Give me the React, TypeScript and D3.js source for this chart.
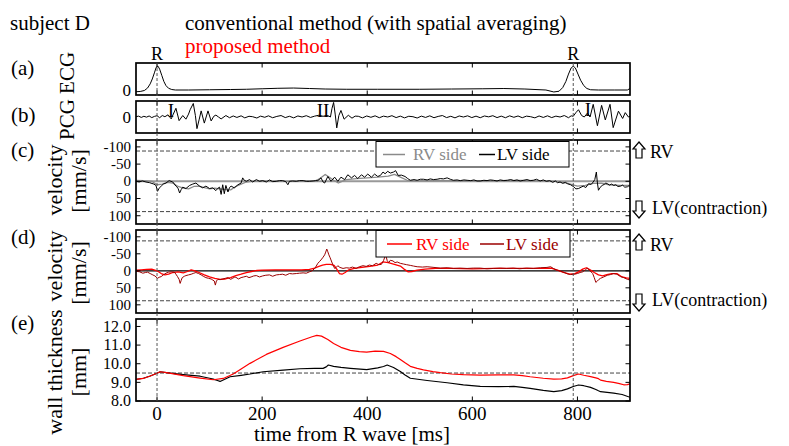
import React from 'react';
import * as d3 from 'd3';

type P = [number, number];

const X_DOMAIN: [number, number] = [-40, 900];
const X_TICKS = [0, 200, 400, 600, 800];
const R_TIMES = [0, 792];
const VEL_TICKS = [-100, -50, 0, 50, 100];
const WALL_TICKS = [8, 9, 10, 11, 12];
const VEL_LIMIT = 88;
const WALL_REF = 9.5;

// (a) ECG
const ecg: P[] = [[-40,-0.07],[-32,-0.06],[-24,-0.02],[-18,0.08],[-13,0.25],[-9,0.45],[-5,0.7],[-2,0.9],[0,0.97],[2,0.97],[5,0.85],[9,0.6],[13,0.35],[17,0.18],[22,0.07],[28,0.02],[35,0],[60,0],[100,0.01],[140,0.02],[170,0.03],[200,0.05],[230,0.07],[260,0.08],[290,0.06],[320,0.04],[360,0.03],[420,0.03],[500,0.03],[560,0.04],[620,0.05],[660,0.06],[700,0.04],[740,0],[755,-0.08],[765,-0.05],[772,0.1],[778,0.35],[783,0.65],[788,0.9],[792,0.97],[796,0.9],[801,0.65],[806,0.4],[812,0.18],[818,0.06],[825,0.01],[840,0],[870,0],[895,0],[900,0.06]];

// (b) PCG
const pcg: P[] = [[-40,0.02],[-35,0.06],[-30,-0.03],[-25,0.05],[-20,-0.01],[-15,0.07],[-10,-0.04],[-5,0.04],[0,0.09],[5,-0.05],[10,0.1],[15,0.02],[21,0.15],[27,-0.13],[31,0.2],[36,0.6],[42,-0.25],[49,0.1],[55,-0.15],[60,0.2],[63,0.5],[69,0.93],[73,0.1],[76,-0.8],[80,-0.2],[84,0.42],[90,-0.42],[97,0.42],[103,-0.27],[108,0.05],[112,0.13],[117,0],[122,-0.13],[131,0.1],[138,-0.05],[145,0.07],[152,-0.03],[160,0.08],[167,-0.06],[175,0.05],[182,0.02],[190,-0.07],[197,0.06],[205,-0.02],[212,0.08],[220,-0.05],[228,0.04],[236,0.1],[244,-0.04],[252,0.05],[260,-0.06],[268,0.07],[276,0],[284,0.09],[292,-0.03],[300,0.06],[308,0.12],[316,0.05],[322,0.1],[326,0.08],[330,0],[333,0.6],[336,1.0],[339,0.2],[342,-0.75],[346,0.1],[350,0.45],[356,-0.15],[364,0.12],[371,-0.08],[377,0.06],[383,0.05],[391,-0.06],[399,0.07],[407,-0.02],[415,0.08],[423,-0.05],[431,0.06],[439,0],[447,0.09],[455,-0.04],[463,0.06],[471,-0.06],[479,0.05],[487,0.02],[495,-0.07],[503,0.06],[511,-0.03],[519,0.08],[527,-0.05],[535,0.04],[543,0.1],[551,-0.04],[559,0.05],[567,-0.06],[575,0.07],[583,0],[591,0.08],[599,-0.04],[607,0.06],[615,-0.05],[623,0.07],[631,0.01],[639,0.09],[647,-0.04],[655,0.06],[663,-0.05],[671,0.08],[679,-0.02],[687,0.07],[695,-0.05],[703,0.06],[711,0.02],[719,-0.06],[727,0.07],[735,-0.03],[743,0.08],[751,-0.04],[759,0.06],[767,0],[775,0.1],[783,-0.05],[788,0.08],[792,0.05],[797,0.3],[802,0.5],[808,0.1],[813,0],[819,0.27],[824,0],[830,0.87],[838,-0.6],[846,0.8],[853,-0.2],[862,0.87],[868,-0.73],[878,0.4],[886,-0.1],[891,0.3],[897,0],[900,0.05]];

// (c) conventional velocity
const convRV: P[] = [[-40,-3],[-25,-2],[-10,0],[0,10],[10,8],[20,3],[30,5],[40,15],[50,20],[60,22],[70,15],[80,14],[90,18],[100,22],[110,20],[120,22],[130,24],[140,25],[150,15],[160,8],[170,2],[180,0],[200,-1],[250,0],[300,-1],[310,-8],[320,-20],[328,-12],[336,-3],[345,5],[352,0],[360,-5],[380,-8],[400,-10],[420,-12],[440,-15],[452,-20],[463,-12],[476,-3],[490,-1],[520,-3],[560,-2],[600,-1],[650,-2],[700,-3],[740,-1],[760,0],[780,5],[800,14],[815,12],[830,6],[845,5],[860,10],[880,12],[900,12]];
const convLV: P[] = [[-40,0],[-34,2],[-28,-1],[-21,2],[-14,4],[-6,8],[-2,12],[1,29],[4,20],[8,14],[12,8],[17,5],[23,-2],[30,2],[36,14],[40,20],[43,34],[46,24],[49,17],[55,21],[62,12],[68,8],[74,5],[81,14],[87,19],[93,14],[100,21],[106,19],[112,27],[116,20],[119,17],[122,38],[125,10],[128,36],[131,12],[135,31],[138,18],[141,14],[147,19],[154,10],[160,5],[163,-10],[166,-3],[170,0],[176,-5],[182,2],[189,-5],[195,0],[201,-2],[208,2],[214,-4],[220,1],[227,0],[233,-2],[239,-2],[245,1],[249,10],[252,0],[258,-1],[265,0],[271,-2],[278,-2],[284,0],[290,0],[297,-1],[302,-2],[306,-2],[312,-10],[316,2],[319,5],[325,-14],[331,0],[338,-12],[344,0],[350,-12],[357,-5],[363,-19],[370,-10],[376,-17],[382,-8],[389,-19],[395,-12],[401,-21],[408,-12],[414,-21],[420,-14],[425,-17],[430,-27],[434,-22],[439,-29],[444,-24],[450,-27],[454,-31],[459,-17],[465,-18],[472,-14],[477,-8],[482,-3],[489,-5],[495,-3],[501,-6],[507,-6],[514,-4],[520,-7],[526,-5],[533,-6],[539,-8],[545,-7],[552,-10],[558,-6],[564,-3],[571,-4],[577,-2],[584,-4],[590,-3],[597,-2],[603,-4],[609,-1],[615,-1],[622,-3],[628,-2],[634,-4],[640,-3],[647,-1],[653,-4],[660,-2],[667,-3],[673,-5],[679,-2],[685,-4],[691,-1],[698,-3],[704,-5],[710,-2],[716,-3],[722,-6],[729,-1],[735,-4],[741,0],[747,-2],[753,3],[758,-1],[762,4],[767,2],[772,6],[777,3],[781,7],[787,10],[793,16],[797,22],[802,21],[807,17],[811,14],[816,18],[821,7],[826,9],[830,2],[833,-5],[836,-27],[838,5],[840,26],[843,18],[847,12],[851,9],[854,5],[857,7],[861,11],[865,8],[869,12],[873,10],[877,15],[882,14],[886,11],[890,17],[895,16],[898,13],[900,14]];

// (d) proposed velocity
const propRV: P[] = [[-40,-2],[-30,-3],[-20,-4],[-10,-5],[0,0],[8,8],[15,12],[22,10],[30,5],[40,3],[50,6],[58,2],[65,-3],[72,0],[80,5],[90,12],[100,18],[110,22],[120,25],[130,24],[140,20],[150,14],[160,10],[170,5],[180,2],[190,-1],[200,-2],[225,-3],[250,-3],[275,-3],[290,-4],[300,-8],[308,-13],[315,-17],[322,-19],[330,-19],[337,-16],[342,-5],[347,8],[352,10],[358,5],[365,-3],[375,-7],[390,-10],[405,-13],[420,-17],[430,-26],[440,-24],[450,-20],[463,-14],[470,-5],[478,3],[485,2],[495,-2],[510,-5],[530,-7],[560,-7],[600,-6],[640,-7],[680,-7],[720,-7],[750,-8],[762,-2],[772,4],[785,10],[795,8],[802,3],[810,-5],[817,-9],[825,-2],[832,5],[840,12],[848,15],[856,11],[865,8],[875,8],[885,18],[893,21],[900,22]];
const propLV: P[] = [[-40,1],[-33,3],[-27,7],[-22,5],[-18,4],[-13,8],[-8,12],[-4,15],[1,22],[4,19],[8,17],[12,12],[17,7],[22,4],[27,3],[33,4],[36,10],[39,17],[42,25],[44,37],[46,28],[48,20],[52,16],[55,14],[60,12],[65,10],[70,7],[74,5],[79,8],[84,12],[88,16],[93,20],[98,22],[103,24],[106,27],[109,30],[111,42],[113,30],[116,25],[120,26],[125,24],[130,22],[135,20],[140,25],[144,22],[147,19],[150,19],[155,24],[160,20],[165,18],[170,16],[175,20],[179,18],[184,15],[189,14],[195,18],[201,15],[207,13],[214,12],[220,16],[227,12],[233,11],[239,10],[245,13],[252,8],[258,9],[265,8],[271,7],[278,6],[284,7],[290,3],[295,0],[300,-7],[303,-14],[306,-22],[309,-27],[312,-32],[316,-40],[319,-47],[321,-55],[323,-64],[325,-56],[327,-47],[329,-40],[331,-32],[334,-20],[338,-7],[341,-10],[344,-15],[348,-10],[354,-7],[360,-9],[366,-8],[372,-11],[379,-7],[385,-12],[392,-15],[398,-13],[404,-17],[410,-15],[417,-22],[422,-18],[427,-19],[431,-30],[435,-47],[438,-30],[441,-24],[444,-31],[449,-29],[453,-24],[457,-26],[463,-22],[469,-20],[475,-18],[482,-16],[488,-14],[495,-12],[505,-11],[514,-12],[527,-10],[539,-8],[552,-9],[564,-7],[577,-8],[590,-7],[602,-8],[615,-8],[628,-6],[640,-7],[653,-8],[665,-7],[678,-8],[690,-6],[703,-8],[716,-7],[730,-9],[742,-10],[749,-12],[755,-6],[761,-2],[768,1],[775,5],[781,9],[787,11],[794,10],[800,8],[805,5],[810,3],[815,-3],[819,-8],[824,0],[829,8],[832,20],[835,34],[838,30],[841,25],[844,22],[850,18],[857,13],[863,11],[869,8],[875,10],[882,17],[888,20],[895,25],[900,27]];

// (e) wall thickness
const wallProp: P[] = [[-40,9.16],[-26,9.21],[-13,9.34],[0,9.49],[6,9.57],[18,9.52],[50,9.36],[82,9.23],[107,9.14],[126,9.21],[145,9.45],[160,9.72],[177,10.02],[208,10.5],[240,10.88],[272,11.22],[295,11.45],[304,11.52],[313,11.48],[325,11.3],[336,11.09],[350,10.88],[368,10.72],[385,10.65],[399,10.62],[415,10.68],[431,10.66],[444,10.55],[455,10.38],[463,10.23],[472,10.05],[482,9.86],[495,9.75],[507,9.67],[525,9.58],[539,9.52],[560,9.45],[583,9.41],[615,9.39],[650,9.4],[679,9.4],[695,9.36],[710,9.3],[735,9.22],[755,9.17],[770,9.19],[781,9.24],[792,9.36],[802,9.45],[812,9.38],[825,9.31],[835,9.24],[840,9.2],[844,9.12],[855,9.05],[869,9.0],[880,8.93],[888,8.87],[895,8.88],[900,8.92]];
const wallConv: P[] = [[-40,9.16],[-26,9.22],[-13,9.34],[0,9.49],[6,9.57],[18,9.52],[50,9.42],[82,9.33],[100,9.22],[107,9.17],[115,9.1],[120,9.05],[130,9.18],[139,9.3],[160,9.38],[177,9.45],[202,9.57],[240,9.66],[272,9.73],[300,9.75],[316,9.75],[322,9.83],[326,9.93],[336,9.86],[350,9.8],[368,9.75],[399,9.68],[420,9.78],[431,9.85],[438,9.93],[450,9.8],[463,9.58],[472,9.4],[482,9.22],[514,9.1],[552,8.98],[583,8.87],[615,8.78],[650,8.77],[679,8.78],[695,8.73],[710,8.68],[735,8.57],[755,8.5],[770,8.56],[781,8.65],[792,8.78],[802,8.86],[812,8.82],[825,8.73],[835,8.62],[840,8.55],[844,8.5],[869,8.42],[885,8.35],[900,8.2]];

const FONT = '"Liberation Serif", "Times New Roman", Times, serif';
const RED = '#ff0000';
const DARKRED = '#9b0000';
const GRAY = '#8a8a8a';

const X0 = 136, X1 = 630;

function upArrow(cx: number, top: number, h: number) {
  const hw = 6, sw = 3, hh = 7;
  return `M${cx},${top} L${cx + hw},${top + hh} L${cx + sw},${top + hh} L${cx + sw},${top + h} L${cx - sw},${top + h} L${cx - sw},${top + hh} L${cx - hw},${top + hh} Z`;
}
function downArrow(cx: number, top: number, h: number) {
  const hw = 6, sw = 3, hh = 7, b = top + h;
  return `M${cx},${b} L${cx + hw},${b - hh} L${cx + sw},${b - hh} L${cx + sw},${top} L${cx - sw},${top} L${cx - sw},${b - hh} L${cx - hw},${b - hh} Z`;
}

export default function App() {
  const x = d3.scaleLinear().domain(X_DOMAIN).range([X0, X1]);
  const yA = d3.scaleLinear().domain([-0.204, 1.102]).range([95, 63]);
  const yB = d3.scaleLinear().domain([-1.1, 1.1]).range([133, 101]);
  const yC = d3.scaleLinear().domain([-120, 124]).range([140, 224]);
  const yD = d3.scaleLinear().domain([-120, 124]).range([230, 313]);
  const yE = d3.scaleLinear().domain([8, 12.4]).range([401, 319]);

  const mk = (y: d3.ScaleLinear<number, number>) =>
    d3.line<P>().x((d) => x(d[0])).y((d) => y(d[1]));

  const panels = [
    { id: 'a', y: yA, ticks: [] as number[], labels: [] as string[], fs: 17 },
    { id: 'b', y: yB, ticks: [] as number[], labels: [] as string[], fs: 17 },
    { id: 'c', y: yC, ticks: VEL_TICKS, labels: VEL_TICKS.map(String), fs: 15 },
    { id: 'd', y: yD, ticks: VEL_TICKS, labels: VEL_TICKS.map(String), fs: 15 },
    { id: 'e', y: yE, ticks: WALL_TICKS, labels: WALL_TICKS.map((v) => v.toFixed(1)), fs: 16 },
  ];
  const extent = (y: d3.ScaleLinear<number, number>) => {
    const r = y.range();
    return { t: Math.min(r[0], r[1]), b: Math.max(r[0], r[1]) };
  };

  const tickLen = 4.5;

  return (
    <svg width={789} height={446} style={{ position: 'absolute', left: 0, top: 0, background: '#fff', fontFamily: FONT }} fontFamily={FONT}>
      <defs>
        {panels.map((p) => {
          const { t, b } = extent(p.y);
          return (
            <clipPath id={`clip-${p.id}`} key={p.id}>
              <rect x={X0} y={t} width={X1 - X0} height={b - t} />
            </clipPath>
          );
        })}
      </defs>
      <rect x={0} y={0} width={789} height={446} fill="#fff" />

      {/* titles */}
      <text x={10} y={30} fontSize={21}>subject D</text>
      <text x={185} y={29.5} fontSize={21}>conventional method (with spatial averaging)</text>
      <text x={185} y={53} fontSize={21} fill={RED}>proposed method</text>

      {/* panel letters */}
      {[['(a)', 75], ['(b)', 122], ['(c)', 157], ['(d)', 244], ['(e)', 330]].map(([s, yy]) => (
        <text key={s as string} x={11} y={yy as number} fontSize={21}>{s}</text>
      ))}

      {/* rotated y labels */}
      {[
        ['PCG ECG', 67, 96, 21],
        ['velocity', 55, 180, 22],
        ['[mm/s]', 79, 181, 22],
        ['velocity', 55, 266, 22],
        ['[mm/s]', 79, 273, 22],
        ['wall thickness', 55, 372, 22],
        ['[mm]', 79, 372, 22],
      ].map(([s, cx, cy, fs], i) => (
        <text key={i} transform={`translate(${cx},${cy}) rotate(-90)`} textAnchor="middle" dy="0.33em" fontSize={fs as number}>
          {s}
        </text>
      ))}

      {/* reference dashed lines */}
      <g stroke="#444" strokeDasharray="4,2" strokeWidth={1}>
        <line x1={X0} x2={X1} y1={yC(-VEL_LIMIT)} y2={yC(-VEL_LIMIT)} />
        <line x1={X0} x2={X1} y1={yC(VEL_LIMIT)} y2={yC(VEL_LIMIT)} />
        <line x1={X0} x2={X1} y1={yD(-VEL_LIMIT)} y2={yD(-VEL_LIMIT)} />
        <line x1={X0} x2={X1} y1={yD(VEL_LIMIT)} y2={yD(VEL_LIMIT)} />
        <line x1={X0} x2={X1} y1={yE(WALL_REF)} y2={yE(WALL_REF)} />
      </g>

      {/* zero lines */}
      <line x1={X0} x2={X1} y1={yC(0)} y2={yC(0)} stroke="#999" strokeWidth={2} />
      <line x1={X0} x2={X1} y1={yD(0)} y2={yD(0)} stroke="#000" strokeWidth={1.3} />

      {/* series */}
      <g fill="none" strokeLinejoin="round">
        <path d={mk(yA)(ecg) ?? ''} stroke="#000" strokeWidth={1} clipPath="url(#clip-a)" />
        <path d={mk(yB)(pcg) ?? ''} stroke="#000" strokeWidth={1} clipPath="url(#clip-b)" />
        <path d={mk(yC)(convRV) ?? ''} stroke={GRAY} strokeWidth={1.3} clipPath="url(#clip-c)" />
        <path d={mk(yC)(convLV) ?? ''} stroke="#000" strokeWidth={1} clipPath="url(#clip-c)" />
        <path d={mk(yD)(propRV) ?? ''} stroke={RED} strokeWidth={1.3} clipPath="url(#clip-d)" />
        <path d={mk(yD)(propLV) ?? ''} stroke={DARKRED} strokeWidth={1} clipPath="url(#clip-d)" />
        <path d={mk(yE)(wallConv) ?? ''} stroke="#000" strokeWidth={1.2} clipPath="url(#clip-e)" />
        <path d={mk(yE)(wallProp) ?? ''} stroke={RED} strokeWidth={1.2} clipPath="url(#clip-e)" />
      </g>

      {/* panel frames & ticks */}
      {panels.map((p) => {
        const { t, b } = extent(p.y);
        return (
          <g key={p.id}>
            {X_TICKS.map((v) => (
              <g key={v} stroke="#000" strokeWidth={1}>
                <line x1={x(v)} x2={x(v)} y1={t} y2={t + tickLen} />
                <line x1={x(v)} x2={x(v)} y1={b} y2={b - tickLen} />
              </g>
            ))}
            {p.ticks.map((v, i) => (
              <g key={v}>
                <line x1={X0} x2={X0 + tickLen} y1={p.y(v)} y2={p.y(v)} stroke="#000" />
                <line x1={X1} x2={X1 - tickLen} y1={p.y(v)} y2={p.y(v)} stroke="#000" />
                <text x={131} y={p.y(v)} dy="0.33em" textAnchor="end" fontSize={p.fs}>{p.labels[i]}</text>
              </g>
            ))}
            <rect x={X0} y={t} width={X1 - X0} height={b - t} fill="none" stroke="#000" strokeWidth={1.7} />
          </g>
        );
      })}

      {/* zero labels for (a), (b) */}
      <text x={131} y={yA(0)} dy="0.33em" textAnchor="end" fontSize={17}>0</text>
      <text x={131} y={yB(0)} dy="0.33em" textAnchor="end" fontSize={17}>0</text>

      {/* legends */}
      <g>
        <rect x={376} y={141.5} width={193} height={25.5} fill="#fff" stroke="#000" strokeWidth={1} />
        <line x1={383} x2={405} y1={154.5} y2={154.5} stroke={GRAY} strokeWidth={1.5} />
        <text x={413} y={160} fontSize={17} fill={GRAY}>RV side</text>
        <line x1={479} x2={495} y1={154.5} y2={154.5} stroke="#000" strokeWidth={1.5} />
        <text x={497} y={160} fontSize={17}>LV side</text>
      </g>
      <g>
        <rect x={376} y={230.5} width={194} height={26.5} fill="#fff" stroke="#000" strokeWidth={1} />
        <line x1={387} x2={412} y1={244} y2={244} stroke={RED} strokeWidth={1.5} />
        <text x={416} y={250} fontSize={17} fill={RED}>RV side</text>
        <line x1={480} x2={504} y1={244} y2={244} stroke={DARKRED} strokeWidth={1.5} />
        <text x={506} y={250} fontSize={17} fill={DARKRED}>LV side</text>
      </g>

      {/* R markers */}
      {R_TIMES.map((r) => (
        <g key={r}>
          <line x1={x(r)} x2={x(r)} y1={63} y2={401} stroke="#555" strokeDasharray="3,2" strokeWidth={1} />
          <text x={x(r)} y={60} textAnchor="middle" fontSize={18}>R</text>
        </g>
      ))}

      {/* heart sound labels */}
      <text x={171} y={117} textAnchor="middle" fontSize={19}>I</text>
      <text x={323} y={117} textAnchor="middle" fontSize={19}>II</text>
      <text x={588} y={116} textAnchor="middle" fontSize={19}>I</text>

      {/* direction annotations */}
      <g fill="#fff" stroke="#000" strokeWidth={1.2}>
        <path d={upArrow(639, 142, 16)} />
        <path d={downArrow(639, 201, 17)} />
        <path d={upArrow(639, 234, 16)} />
        <path d={downArrow(639, 294, 17)} />
      </g>
      <text x={650} y={158} fontSize={18}>RV</text>
      <text x={652} y={214} fontSize={18}>LV(contraction)</text>
      <text x={650} y={250.5} fontSize={18}>RV</text>
      <text x={652} y={306} fontSize={18}>LV(contraction)</text>

      {/* x axis */}
      {X_TICKS.map((v) => (
        <text key={v} x={x(v)} y={420} textAnchor="middle" fontSize={19}>{v}</text>
      ))}
      <text x={352} y={441} textAnchor="middle" fontSize={21}>time from R wave [ms]</text>
    </svg>
  );
}
